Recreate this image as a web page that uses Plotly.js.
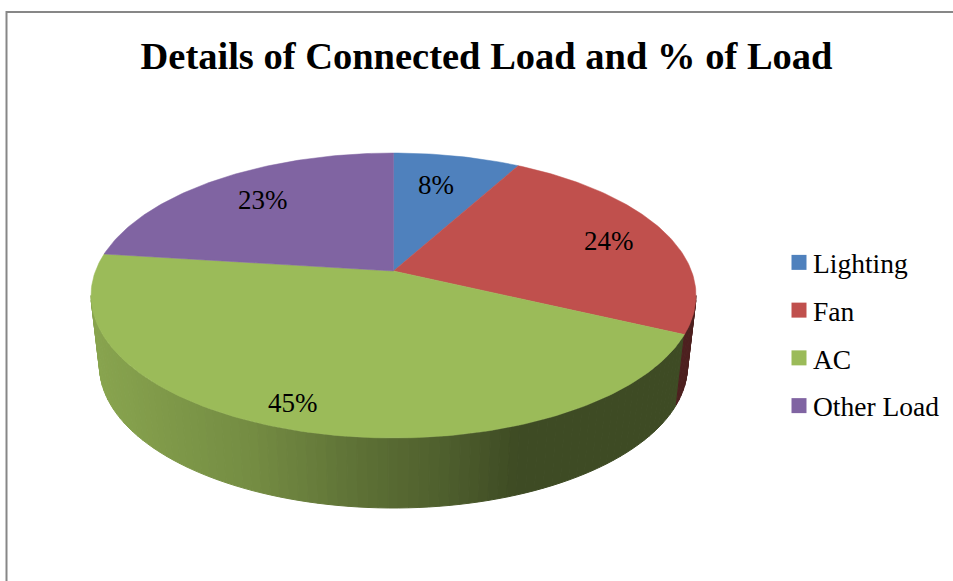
<!DOCTYPE html>
<html>
<head>
<meta charset="utf-8">
<script src="https://cdn.plot.ly/plotly-3.0.1.min.js"></script>
<style>
html, body { margin: 0; padding: 0; background: #fff; overflow: hidden; }
#chart { width: 953px; height: 581px; }
</style>
</head>
<body>
<div id="chart"></div>
<script>
// chart data
const categories = ['Lighting', 'Fan', 'AC', 'Other Load'];
const percents = [8, 24, 45, 23];
const colors = ['#4F81BD', '#C0504D', '#9BBB59', '#8064A2'];
const chartTitle = 'Details of Connected Load and % of Load';

// Plotly has no 3D pie, so the disc is drawn with filled traces on pixel-sized axes
const serif = '"Liberation Serif", "DejaVu Serif", serif';
const topFace = { cx: 393.5, cy: 295.5, rx: 302.5, ry: 142.5 };
const bottomFace = { cx: 393.5, cy: 366, rx: 294, ry: 142 };
const tilt = 0.172; // perspective: moves the centre of the pie up in the ellipse
const squeeze = Math.sqrt(1 - tilt * tilt);
const labelX = [436, 609, 293, 263];
const labelY = [185, 241, 403, 200];
// side face shading, [x pixel, brightness]
const shadeStops = [[90, 0.88], [250, 0.75], [370, 0.59], [450, 0.5], [520, 0.4], [953, 0.4]];

const total = percents.reduce((a, b) => a + b, 0);

// share of the pie going clockwise from the top -> point on the unit ellipse
function project(share, radius) {
    const t = share * 2 * Math.PI;
    const u = radius * Math.sin(t);
    const v = radius * Math.cos(t);
    const d = 1 + tilt * v;
    return [squeeze * u / d, (v + tilt) / d];
}

function toPixel(p) {
    return [topFace.cx + topFace.rx * p[0], topFace.cy - topFace.ry * p[1]];
}

function unproject(X, Y) {
    const v = (Y - tilt) / (1 - tilt * Y);
    const u = X * (1 + tilt * v) / squeeze;
    let share = Math.atan2(u, v) / (2 * Math.PI);
    if (share < 0) share += 1;
    return share;
}

function sliceAt(share) {
    let sum = 0;
    for (let i = 0; i < percents.length; i++) {
        sum += percents[i] / total;
        if (share <= sum) return i;
    }
    return percents.length - 1;
}

function shadeAt(x) {
    for (let i = 1; i < shadeStops.length; i++) {
        if (x <= shadeStops[i][0]) {
            const a = shadeStops[i - 1];
            const b = shadeStops[i];
            return a[1] + (b[1] - a[1]) * Math.max(0, x - a[0]) / (b[0] - a[0]);
        }
    }
    return 0.4;
}

function darken(hex, k) {
    const n = parseInt(hex.slice(1), 16);
    const r = Math.round((n >> 16 & 255) * k);
    const g = Math.round((n >> 8 & 255) * k);
    const b = Math.round((n & 255) * k);
    return `rgb(${r},${g},${b})`;
}

function rimPoint(face, deg) {
    const a = deg * Math.PI / 180;
    return [face.cx + face.rx * Math.cos(a), face.cy - face.ry * Math.sin(a)];
}

const traces = [];

// side of the disc, left edge round the front to the right edge
const breaks = [180, 360];
let running = 0;
percents.forEach(p => {
    running += p / total;
    const e = project(running, 1);
    let deg = Math.atan2(e[1], e[0]) * 180 / Math.PI;
    if (deg < 0) deg += 360;
    if (deg > 180 && deg < 360) breaks.push(deg);
});
breaks.sort((a, b) => a - b);

for (let b = 0; b < breaks.length - 1; b++) {
    const n = Math.ceil((breaks[b + 1] - breaks[b]) / 2);
    const step = (breaks[b + 1] - breaks[b]) / n;
    const mid = (breaks[b] + breaks[b + 1]) / 2 * Math.PI / 180;
    const owner = sliceAt(unproject(Math.cos(mid), Math.sin(mid)));
    for (let i = 0; i < n; i++) {
        const d0 = breaks[b] + i * step;
        const d1 = d0 + step;
        const q = [rimPoint(topFace, d0), rimPoint(topFace, d1), rimPoint(bottomFace, d1), rimPoint(bottomFace, d0)];
        q.push(q[0]);
        const color = darken(colors[owner], shadeAt((q[0][0] + q[1][0]) / 2));
        traces.push({
            type: 'scatter',
            mode: 'lines',
            x: q.map(p => p[0]),
            y: q.map(p => p[1]),
            fill: 'toself',
            fillcolor: color,
            line: { color: color, width: 1 },
            legendgroup: categories[owner],
            showlegend: false,
            hoverinfo: 'skip'
        });
    }
}

// top face
let start = 0;
percents.forEach((p, i) => {
    const share = p / total;
    const xs = [toPixel(project(0, 0))[0]];
    const ys = [toPixel(project(0, 0))[1]];
    const n = Math.ceil(share * 360);
    for (let k = 0; k <= n; k++) {
        const pt = toPixel(project(start + share * k / n, 1));
        xs.push(pt[0]);
        ys.push(pt[1]);
    }
    xs.push(xs[0]);
    ys.push(ys[0]);
    traces.push({
        type: 'scatter',
        mode: 'lines',
        x: xs,
        y: ys,
        fill: 'toself',
        fillcolor: colors[i],
        line: { color: colors[i], width: 0.5 },
        name: categories[i],
        legendgroup: categories[i],
        showlegend: false,
        hovertemplate: `${categories[i]}: ${p}%<extra></extra>`,
        hoveron: 'fills'
    });
    start += share;
});

// legend entries, off the visible range so only the swatch shows
categories.forEach((c, i) => {
    traces.push({
        type: 'scatter',
        mode: 'markers',
        x: [-50],
        y: [-50],
        name: c,
        legendgroup: c,
        marker: { symbol: 'square', size: 15, color: colors[i] },
        hoverinfo: 'skip'
    });
});

const layout = {
    width: 953,
    height: 581,
    margin: { l: 0, r: 0, t: 0, b: 0 },
    paper_bgcolor: '#fff',
    plot_bgcolor: '#fff',
    title: {
        text: '<b>' + chartTitle + '</b>',
        font: { family: serif, size: 38.5, color: '#000' },
        x: 486.5 / 953,
        xanchor: 'center',
        xref: 'paper',
        y: 1 - 56 / 581,
        yanchor: 'middle',
        yref: 'container'
    },
    xaxis: { range: [0, 953], visible: false, fixedrange: true },
    yaxis: { range: [581, 0], visible: false, fixedrange: true },
    showlegend: true,
    legend: {
        x: 773 / 953,
        xanchor: 'left',
        y: 1 - 238 / 581,
        yanchor: 'top',
        bgcolor: 'rgba(0,0,0,0)',
        traceorder: 'grouped',
        tracegroupgap: 9,
        font: { family: serif, size: 27.5, color: '#000' },
        itemclick: false,
        itemdoubleclick: false
    },
    // chart frame, runs off the right and bottom of the image
    shapes: [{
        type: 'rect',
        xref: 'x',
        yref: 'y',
        x0: 6.5,
        y0: 12,
        x1: 990,
        y1: 620,
        line: { color: '#878787', width: 2 },
        layer: 'below'
    }],
    annotations: percents.map((p, i) => ({
        x: labelX[i],
        y: labelY[i],
        xref: 'x',
        yref: 'y',
        text: p + '%',
        showarrow: false,
        font: { family: serif, size: 27, color: '#000' }
    }))
};

Plotly.newPlot('chart', traces, layout, { displayModeBar: false }).then(() => {
    // swatches sit closer to the text than Plotly's default
    document.querySelectorAll('#chart .legendpoints').forEach(g => {
        g.setAttribute('transform', 'translate(6,0)');
    });
});
</script>
</body>
</html>
